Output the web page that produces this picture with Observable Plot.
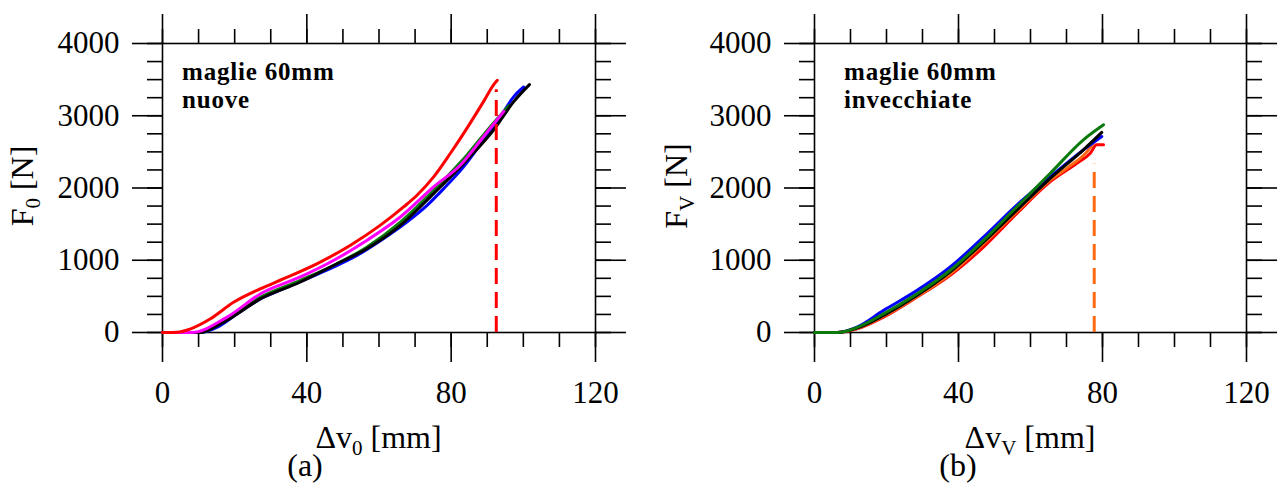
<!DOCTYPE html>
<html><head><meta charset="utf-8">
<script src="https://cdn.jsdelivr.net/npm/d3@7"></script>
<script src="https://cdn.jsdelivr.net/npm/@observablehq/plot@0.6"></script>
<style>
html,body{margin:0;padding:0;background:#fff;}
#wrap{display:flex;width:1278px;height:487px;overflow:hidden;}
#wrap svg{overflow:visible;display:block;}
</style></head><body><div id="wrap"></div>
<script>
// ---- tick values ----
const xMajorTicks = [0, 40, 80, 120];
const xMinorTicks = [0, 10, 20, 30, 40, 50, 60, 70, 80, 90, 100, 110, 120];
const yMajorTicks = [0, 1000, 2000, 3000, 4000];
const yMinorTicks = [0, 250, 500, 750, 1000, 1250, 1500, 1750, 2000, 2250, 2500, 2750, 3000, 3250, 3500, 3750, 4000];

// ---- panel (a): maglie 60mm nuove  [Δv0 mm, F0 N] ----
const nuoveBlue = [[0,0],[10.5,0],[15.2,74],[20.7,259],[27.2,468],[33.6,606],[40.1,745],[47.5,907],[54.0,1069],[61.3,1301],[67.8,1532],[73.4,1764],[78.0,1995],[83.5,2296],[89.0,2667],[93.7,2991],[97.4,3268],[100.1,3398]];
const nuoveGreen = [[0,0],[10.5,0],[17.0,167],[27.2,491],[38.2,722],[47.5,931],[56.7,1185],[66.0,1532],[75.2,1972],[84.4,2458],[90.9,2852],[96.0,3139]];
const nuoveBlack = [[0,0],[10.0,0],[17.0,144],[27.2,468],[38.2,699],[47.5,931],[56.7,1162],[66.0,1486],[75.2,1926],[84.4,2389],[91.8,2806],[97.4,3199],[101.7,3431]];
const nuoveMagenta = [[0,0],[8.0,0],[17.9,213],[27.2,537],[38.2,769],[47.5,1000],[56.7,1278],[66.0,1602],[75.2,2019],[82.6,2319],[89.0,2713],[94.6,3060]];
const nuoveRed = [[0,0],[4.0,5],[7.8,51],[13.3,190],[19.8,421],[27.2,606],[33.6,745],[42.9,954],[52.1,1208],[60.4,1486],[66.9,1741],[70.6,1903],[75.2,2157],[79.8,2481],[84.4,2829],[89.0,3199],[91.8,3431],[92.8,3491]];
const nuoveBreak = [{v: 92.5, from: 0, to: 3360}];

// ---- panel (b): maglie 60mm invecchiate  [Δvv mm, Fv N] ----
const vecchieRed = [[0,0],[6.3,0],[11.8,50],[19.2,213],[28.5,491],[37.7,792],[47.0,1185],[56.2,1648],[65.5,2088],[72.9,2343],[76.6,2481],[78.4,2597],[80.3,2597]];
const vecchieOrange = [[0,0],[6.3,0],[11.8,55],[19.2,225],[28.5,500],[37.7,810],[47.0,1232],[56.2,1671],[65.5,2111],[70.7,2296],[75.7,2504],[77.7,2643]];
const vecchieBlue = [[0,0],[6.3,0],[11.8,74],[19.2,306],[28.5,583],[37.7,907],[47.0,1324],[56.2,1764],[65.5,2157],[74.7,2528],[79.8,2713]];
const vecchieBlack = [[0,0],[6.3,0],[11.8,60],[19.2,236],[28.5,514],[37.7,838],[47.0,1255],[56.2,1694],[65.5,2134],[74.7,2528],[79.8,2769]];
const vecchieGreen = [[0,0],[6.3,0],[11.8,70],[19.2,259],[28.5,537],[37.7,861],[47.0,1278],[56.2,1741],[65.5,2204],[74.7,2667],[80.3,2875]];
const vecchieBreak = [{v: 77.7, from: 0, to: 2330}];

const FONT = "'Liberation Serif','Times New Roman',serif";

function rows(series) {
  return series.flatMap(s => s.pts.map(([v, f]) => ({v, f, id: s.id})));
}

function panel(cfg) {
  const data = rows(cfg.series);
  const tickStyle = {stroke: "#000", strokeWidth: 1.6};
  const blank = () => "";
  const svg = Plot.plot({
    width: 639, height: 487,
    marginLeft: cfg.ml, marginRight: cfg.mr, marginTop: 43, marginBottom: 155,
    x: {domain: [0, 120]},
    y: {domain: [0, 4000]},
    color: {domain: cfg.series.map(s => s.id), range: cfg.series.map(s => s.color)},
    style: {fontFamily: FONT, fontSize: "31px", color: "#000", background: "transparent"},
    marks: [
      Plot.axisX({anchor: "bottom", ticks: xMinorTicks, tickSize: 15, tickFormat: blank, label: null, ...tickStyle}),
      Plot.axisX({anchor: "bottom", ticks: xMajorTicks, tickSize: 30, tickPadding: 18, tickFormat: d3.format("d"), label: null, ...tickStyle}),
      Plot.axisX({anchor: "top", ticks: xMinorTicks, tickSize: 15, tickFormat: blank, label: null, ...tickStyle}),
      Plot.axisX({anchor: "top", ticks: xMajorTicks, tickSize: 30, tickFormat: blank, label: null, ...tickStyle}),
      Plot.axisY({anchor: "left", ticks: yMinorTicks, tickSize: 15, tickFormat: blank, label: null, ...tickStyle}),
      Plot.axisY({anchor: "left", ticks: yMajorTicks, tickSize: 30, tickPadding: 13, tickFormat: d3.format("d"), label: null, ...tickStyle}),
      Plot.axisY({anchor: "right", ticks: yMinorTicks, tickSize: 15, tickFormat: blank, label: null, ...tickStyle}),
      Plot.axisY({anchor: "right", ticks: yMajorTicks, tickSize: 30, tickFormat: blank, label: null, ...tickStyle}),
      Plot.frame({stroke: "#000", strokeWidth: 1.6}),
      Plot.line(data, {x: "v", y: "f", z: "id", stroke: "id", curve: "monotone-x", strokeWidth: 3, strokeLinejoin: "round", strokeLinecap: "round"}),
      Plot.ruleX(cfg.brk, {x: "v", y1: "from", y2: "to", stroke: cfg.brkColor, strokeWidth: 3, strokeDasharray: "16,8"})
    ]
  });
  const g = d3.select(svg);
  const left = cfg.ml, right = 639 - cfg.mr;
  // x-axis label with subscript
  const xl = g.append("text").attr("x", (left + right) / 2).attr("y", 448)
    .attr("text-anchor", "middle").attr("font-family", FONT).attr("font-size", 32).attr("fill", "#000");
  xl.append("tspan").text("Δv");
  xl.append("tspan").text(cfg.xSub).attr("font-size", 21).attr("dy", 7);
  xl.append("tspan").text(" [mm]").attr("dy", -7);
  // y-axis label, rotated
  const yl = g.append("text").attr("transform", `translate(${cfg.yLabelX},186) rotate(-90)`)
    .attr("text-anchor", "middle").attr("font-family", FONT).attr("font-size", 32).attr("fill", "#000");
  yl.append("tspan").text("F");
  yl.append("tspan").text(cfg.ySub).attr("font-size", 21).attr("dy", 7);
  yl.append("tspan").text(" [N]").attr("dy", -7);
  // panel tag
  g.append("text").attr("x", cfg.tagX).attr("y", 476).attr("text-anchor", "middle")
    .attr("font-family", FONT).attr("font-size", 32).attr("fill", "#000").text(cfg.tag);
  // annotation
  cfg.note.forEach((line, i) => {
    g.append("text").attr("x", left + cfg.noteDx).attr("y", 80 + i * 28)
      .attr("text-anchor", "start")
      .attr("font-family", FONT).attr("font-size", 25).attr("font-weight", "bold")
      .attr("letter-spacing", 0.8).attr("fill", "#000").text(line);
  });
  return svg;
}

const wrap = document.getElementById("wrap");
wrap.appendChild(panel({
  ml: 162, mr: 44,
  series: [
    {id: "blu", color: "#0000ff", pts: nuoveBlue},
    {id: "verde", color: "#0b7a0b", pts: nuoveGreen},
    {id: "nero", color: "#000000", pts: nuoveBlack},
    {id: "magenta", color: "#ff00ff", pts: nuoveMagenta},
    {id: "rosso", color: "#ff0000", pts: nuoveRed}
  ],
  brk: nuoveBreak, brkColor: "#ff0000",
  xSub: "0", ySub: "0", yLabelX: 33, tag: "(a)", tagX: 305,
  note: ["maglie 60mm", "nuove"], noteDx: 20
}));
wrap.appendChild(panel({
  ml: 175, mr: 32,
  series: [
    {id: "rosso", color: "#ff0000", pts: vecchieRed},
    {id: "arancio", color: "#ff6a13", pts: vecchieOrange},
    {id: "blu", color: "#0000ff", pts: vecchieBlue},
    {id: "nero", color: "#000000", pts: vecchieBlack},
    {id: "verde", color: "#0b7a0b", pts: vecchieGreen}
  ],
  brk: vecchieBreak, brkColor: "#ff6a13",
  xSub: "V", ySub: "V", yLabelX: 48, tag: "(b)", tagX: 319,
  note: ["maglie 60mm", "invecchiate"], noteDx: 30
}));
</script></body></html>
